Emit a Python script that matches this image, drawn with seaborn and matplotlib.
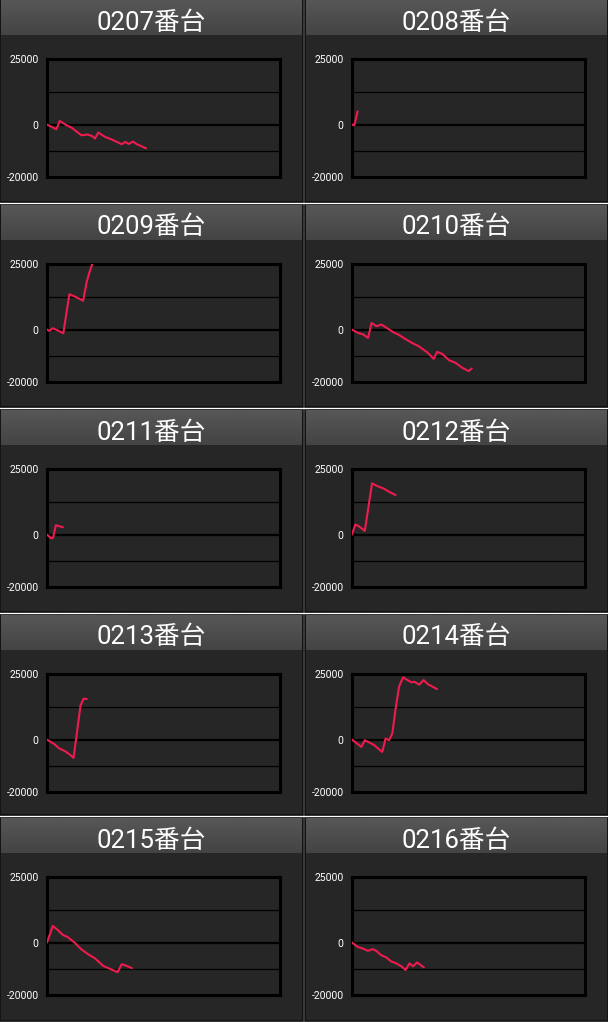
import matplotlib
matplotlib.use("Agg")
import matplotlib.pyplot as plt
from matplotlib.patches import Rectangle
import seaborn as sns
import pandas as pd
import numpy as np

sns.set_theme(style="dark")
plt.rcParams['font.family'] = ['Roboto', 'Noto Sans CJK JP', 'DejaVu Sans']

# ---- data ----
titles = ["0207番台", "0208番台", "0209番台", "0210番台", "0211番台",
          "0212番台", "0213番台", "0214番台", "0215番台", "0216番台"]
y_ticks = [25000, 0, -20000]
y_tick_labels = ["25000", "0", "-20000"]
grid_minor = [12500, -10000]

x_0207 = [0, 4.0, 5.5, 8.3, 10.5, 14.8, 17.3, 19.2, 20.6, 22.0, 24.9, 27.8, 32.1, 33.6, 35.0, 36.9, 38.6, 42.5]
y_0207 = [0, -1800, 1400, -250, -1150, -4100, -3800, -4300, -5350, -3050, -4700, -5700, -7500, -6600, -7400, -6500, -7500, -9050]

x_0208 = [0, 1.0, 2.4]
y_0208 = [0, -300, 5000]

x_0209 = [0, 1.0, 2.5, 5.0, 7.0, 9.6, 12.9, 15.5, 17.0, 18.0, 19.4]
y_0209 = [0, -500, 500, -500, -1400, 13500, 12200, 11000, 18000, 21200, 25000]

x_0210 = [0, 2.6, 4.8, 6.9, 8.4, 10.5, 12.7, 14.9, 17.7, 19.9, 22.8, 25.7, 28.6, 32.2, 35.1, 36.5, 38.7, 41.6, 44.4, 47.3, 50.1, 51.4]
y_0210 = [0, -1270, -1900, -3170, 2540, 1270, 1900, 630, -1000, -1900, -3550, -5070, -6340, -8620, -11160, -8500, -9250, -11660, -12680, -14580, -15850, -14830]

x_0211 = [0, 1.7, 2.6, 3.8, 6.8]
y_0211 = [0, -1400, -1270, 3560, 2800]

x_0212 = [0, 1.4, 2.9, 5.5, 8.6, 10.8, 13.7, 15.8, 18.7]
y_0212 = [0, 3830, 3200, 1400, 19550, 18500, 17500, 16360, 15080]

x_0213 = [0, 3.2, 5.3, 7.5, 9.6, 11.4, 14.4, 15.7, 17.1]
y_0213 = [0, -1780, -3420, -4310, -5580, -6970, 13060, 15600, 15470]

x_0214 = [0, 2.2, 4.0, 5.5, 7.5, 9.4, 11.1, 13.0, 14.4, 15.9, 17.3, 18.8, 20.2, 21.9, 23.8, 25.5, 26.7, 28.9, 30.7, 32.5, 34.6, 36.5]
y_0214 = [0, -1530, -2800, -250, -1150, -2040, -3320, -4720, 380, -250, 2300, 12240, 20150, 23720, 22700, 21800, 22060, 20910, 22700, 21170, 20150, 19250]

x_0215 = [0, 2.5, 4.6, 6.8, 9.0, 11.8, 14.7, 17.6, 20.5, 24.1, 27.0, 30.3, 32.1, 34.2, 36.4]
y_0215 = [0, 6340, 4820, 2920, 2030, 0, -2540, -4440, -5960, -8880, -10020, -11290, -8240, -8880, -9760]

x_0216 = [0, 2.4, 4.6, 6.8, 8.9, 10.4, 12.5, 14.7, 16.8, 19.0, 21.2, 23.0, 24.7, 26.2, 27.9, 30.8]
y_0216 = [0, -1640, -2270, -3150, -2520, -3150, -4790, -5670, -7190, -7940, -9080, -10460, -7940, -9080, -7560, -9450]

series_x = [x_0207, x_0208, x_0209, x_0210, x_0211, x_0212, x_0213, x_0214, x_0215, x_0216]
series_y = [y_0207, y_0208, y_0209, y_0210, y_0211, y_0212, y_0213, y_0214, y_0215, y_0216]

# ---- layout (pixels) ----
W, H = 608, 1023
fig = plt.figure(figsize=(W / 100, H / 100), dpi=100)
fig.patch.set_facecolor("white")

cols = [(0, 303), (305, 608)]
rows = [(0, 202), (205, 407), (410, 612), (615, 815), (818, 1021)]

PANEL_BG = "#262626"
LINE_C = "#ee1c4e"
bar_cmap = matplotlib.colors.LinearSegmentedColormap.from_list("bar", ["#444444", "#575757"])
grad = np.linspace(0, 1, 32).reshape(-1, 1)


def fx(px):
    return px / W


def fy(py):
    return 1 - py / H


for i, (title, xs, ys) in enumerate(zip(titles, series_x, series_y)):
    r, c = divmod(i, 2)
    x0, x1 = cols[c]
    y0, y1 = rows[r]
    # panel background
    fig.patches.append(Rectangle((fx(x0), fy(y1)), fx(x1 - x0), (y1 - y0) / H,
                                 transform=fig.transFigure, facecolor=PANEL_BG,
                                 edgecolor="#111111", linewidth=1.2, zorder=-2))
    # title bar (subtle vertical gradient)
    bax = fig.add_axes([fx(x0 + 1), fy(y0 + 35), fx(x1 - x0 - 2), 35 / H])
    bax.set_zorder(1)
    bax.imshow(grad, aspect="auto", cmap=bar_cmap, origin="lower",
               extent=[0, 1, 0, 1])
    bax.set_axis_off()
    fig.text(fx((x0 + x1) / 2), fy(y0 + 29.5), title, color="white",
             fontsize=18.5, ha="center", va="baseline", fontweight="normal",
             family=['Roboto', 'Noto Sans CJK JP', 'DejaVu Sans'], zorder=10)

    # plot area
    left, right = x0 + 47, x0 + 280
    top, bottom = y0 + 59, y0 + 177
    ax = fig.add_axes([fx(left), fy(bottom), fx(right - left), (bottom - top) / H])
    ax.set_zorder(5)
    ax.set_facecolor(PANEL_BG)
    for gy in grid_minor:
        ax.axhline(gy, color="black", linewidth=0.9, zorder=1)
    ax.axhline(0, color="black", linewidth=1.6, zorder=1)

    df = pd.DataFrame({"x": xs, "y": ys})
    sns.lineplot(data=df, x="x", y="y", ax=ax, color=LINE_C, linewidth=1.5,
                 sort=False, estimator=None, zorder=3)

    ax.set_xlim(0, 100)
    ax.set_ylim(-20000, 25000)
    ax.set_xticks([])
    ax.set_yticks(y_ticks)
    ax.set_yticklabels(y_tick_labels, color="white", fontsize=7.5,
                       family=['Roboto', 'DejaVu Sans'])
    ax.tick_params(axis="y", length=0, pad=6)
    ax.set_xlabel("")
    ax.set_ylabel("")
    ax.grid(False)
    for sp in ax.spines.values():
        sp.set_visible(True)
        sp.set_color("black")
        sp.set_linewidth(2.2)

fig.savefig("out.png", dpi=100, facecolor=fig.get_facecolor())
